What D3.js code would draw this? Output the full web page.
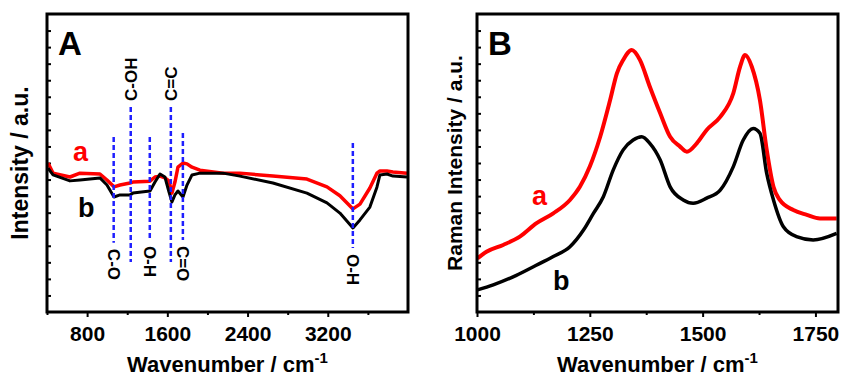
<!DOCTYPE html>
<html><head><meta charset="utf-8">
<script src="https://cdn.jsdelivr.net/npm/d3@7"></script>
<style>
body{margin:0;background:#fff;}
svg{display:block;font-family:"Liberation Sans",Arial,sans-serif;font-weight:bold;}
</style></head>
<body><svg id="chart" width="841" height="377"></svg>
<script>
// ---------- Panel A: FTIR ----------
const ftirA_x = [410,460,629,729,928,998,1068,1128,1228,1257,1427,1477,1527,1576,1616,1646,1676,1706,1756,1796,1846,1925,2155,2324,2653,2992,3192,3321,3451,3521,3620,3690,3720,3790,3850,3990];
const ftirA_a = [50.0,46.6,45.3,46.6,46.3,44.3,42.0,42.6,43.3,43.6,43.9,45.3,45.6,45.0,44.0,39.9,43.6,48.6,50.0,49.7,48.6,47.6,46.6,46.6,45.6,44.6,42.0,39.0,34.6,36.2,41.6,46.6,47.3,47.3,47.0,46.6];
const ftirA_b = [48.3,46.0,44.0,44.3,45.0,42.6,38.6,39.3,39.3,39.9,40.6,43.6,46.3,45.3,40.3,36.9,39.3,40.6,38.6,42.6,46.0,46.6,46.6,45.6,43.3,39.9,36.6,33.2,28.2,30.9,35.2,41.9,46.0,46.3,45.6,45.3];
const ftirA_ticksMajor = [800,1600,2400,3200];
const ftirA_ticksMinor = [400,1200,2000,2800,3600];
const bandPos    = [1065,1235,1425,1635,1755,3450];
const bandTop    = [58.7,68.8,58.7,68.8,60.1,56.7];
const bandBottom = [23.2,16.8,24.2,16.8,24.2,21.5];
const bandLabel  = ["C-O","C-OH","O-H","C=C","C=O","O-H"];
const bandSide   = ["below","above","below","above","below","below"];

// ---------- Panel B: Raman ----------
const ramanA_x = [1001,1021,1058,1095,1132,1169,1206,1228,1250,1273,1295,1310,1324,1343,1361,1383,1406,1428,1450,1465,1487,1509,1539,1568,1583,1594,1609,1627,1642,1657,1671,1701,1731,1760,1797];
const ramanA_y = [18.0,20.2,22.5,25.3,29.8,33.1,37.6,42.0,48.8,58.8,71.1,80.1,84.6,87.9,84.6,75.6,66.7,58.8,55.5,53.8,56.6,61.1,65.5,73.4,82.3,86.2,82.3,71.1,54.4,42.0,37.6,34.2,32.6,31.4,31.4];
const ramanB_x = [1001,1036,1080,1125,1169,1206,1236,1258,1280,1302,1324,1346,1365,1383,1406,1428,1457,1479,1509,1539,1568,1590,1612,1627,1642,1657,1679,1708,1745,1797];
const ramanB_y = [7.4,9.1,11.8,15.2,18.6,21.9,27.5,33.1,38.7,47.7,54.4,57.7,58.8,56.6,51.0,42.0,37.6,36.5,38.2,40.9,48.8,57.7,61.6,60.0,46.5,37.6,28.6,25.3,24.2,26.4];
const raman_ticksMajor = [1000,1250,1500,1750];
const raman_ticksMinor = [1125,1375,1625];

const svg = d3.select("#chart");
const plotTop = 14, plotBottom = 312;

function panel(opt){
  const g = svg.append("g");
  const x = d3.scaleLinear().domain(opt.xDomain).range([opt.left, opt.right]);
  const y = d3.scaleLinear().domain([0,100]).range([plotBottom, plotTop]);

  g.append("g").attr("transform",`translate(0,${plotBottom})`)
    .call(d3.axisBottom(x).tickValues(opt.minor).tickSize(3).tickFormat(""))
    .call(s=>{s.select(".domain").remove(); s.selectAll("line").attr("stroke","#000").attr("stroke-width",2);});
  g.append("g").attr("transform",`translate(0,${plotBottom})`)
    .call(d3.axisBottom(x).tickValues(opt.major).tickSize(5).tickPadding(9).tickFormat(d3.format("d")))
    .call(s=>{s.select(".domain").remove();
      s.selectAll("line").attr("stroke","#000").attr("stroke-width",2);
      s.selectAll("text").attr("fill","#000").style("font-size","21px").style("font-weight","bold")
       .style("font-family","'Liberation Sans',Arial,sans-serif");});
  const yt = d3.range(1,18).map(i=>i*100/18);
  g.append("g").attr("transform",`translate(${opt.left},0)`)
    .call(d3.axisRight(y).tickValues(yt).tickSize(4).tickFormat(""))
    .call(s=>{s.select(".domain").remove(); s.selectAll("line").attr("stroke","#000").attr("stroke-width",2);});

  const line = d3.line().x(d=>x(d[0])).y(d=>y(d[1])).curve(opt.curve);
  opt.series.forEach(se=>{
    g.append("path").datum(se.x.map((v,i)=>[v,se.y[i]]))
      .attr("d",line).attr("fill","none").attr("stroke",se.color)
      .attr("stroke-width",se.w).attr("stroke-linejoin","round");
    g.append("text").attr("x",se.lx).attr("y",se.ly).attr("fill",se.color)
      .style("font-size","27px").text(se.name);
  });

  g.append("rect").attr("x",opt.left).attr("y",plotTop)
    .attr("width",opt.right-opt.left).attr("height",plotBottom-plotTop)
    .attr("fill","none").attr("stroke","#000").attr("stroke-width",3);

  g.append("text").attr("x",opt.left+11).attr("y",55).style("font-size","33px").text(opt.letter);

  const xt = g.append("text").attr("x",(opt.left+opt.right)/2).attr("y",372)
    .attr("text-anchor","middle").style("font-size","22px");
  xt.append("tspan").text("Wavenumber / cm");
  xt.append("tspan").attr("dy",-9).style("font-size","15px").text("-1");

  g.append("text").attr("transform",`translate(${opt.yTitleX},${(plotTop+plotBottom)/2}) rotate(-90)`)
    .attr("text-anchor","middle").style("font-size",opt.yTitleSize+"px").text(opt.yTitle);
  return {g,x,y};
}

const A = panel({
  left:47, right:408, xDomain:[400,4000], major:ftirA_ticksMajor, minor:ftirA_ticksMinor,
  curve:d3.curveLinear, letter:"A", yTitle:"Intensity / a.u.", yTitleX:28, yTitleSize:23,
  series:[
    {x:ftirA_x,y:ftirA_a,color:"#ff0000",name:"a",lx:73,ly:161,w:3.5},
    {x:ftirA_x,y:ftirA_b,color:"#000000",name:"b",lx:78,ly:217,w:3}
  ]
});

bandPos.forEach((p,i)=>{
  const xx = A.x(p);
  A.g.append("line").attr("x1",xx).attr("x2",xx)
    .attr("y1",A.y(bandTop[i])).attr("y2",A.y(bandBottom[i]))
    .attr("stroke","#1f1fff").attr("stroke-width",2.5).attr("stroke-dasharray","5,3");
  if(bandSide[i]==="above"){
    A.g.append("text").attr("transform",`translate(${xx+6},${A.y(bandTop[i])-6}) rotate(-90)`)
      .style("font-size","17px").text(bandLabel[i]);
  } else {
    A.g.append("text").attr("transform",`translate(${xx-6},${A.y(bandBottom[i])+6}) rotate(90)`)
      .style("font-size","17px").text(bandLabel[i]);
  }
});

panel({
  left:477, right:838, xDomain:[1000,1800], major:raman_ticksMajor, minor:raman_ticksMinor,
  curve:d3.curveMonotoneX, letter:"B", yTitle:"Raman Intensity / a.u.", yTitleX:462, yTitleSize:21,
  series:[
    {x:ramanA_x,y:ramanA_y,color:"#ff0000",name:"a",lx:532,ly:205,w:4},
    {x:ramanB_x,y:ramanB_y,color:"#000000",name:"b",lx:553,ly:290,w:3.5}
  ]
});
</script></body></html>
